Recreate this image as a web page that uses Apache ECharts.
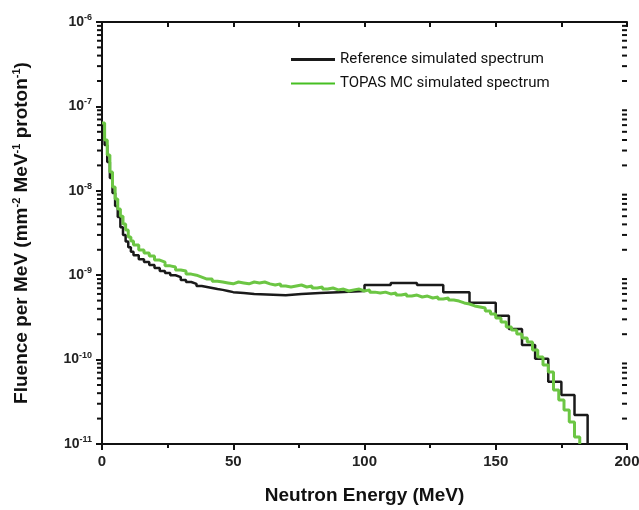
<!DOCTYPE html>
<html>
<head>
<meta charset="utf-8">
<script src="https://cdn.jsdelivr.net/npm/echarts@6/dist/echarts.min.js"></script>
<style>
  html, body { margin: 0; padding: 0; background: #fff; }
  #chart { width: 639px; height: 510px; }
</style>
</head>
<body>
<div id="chart"></div>
<script>
var xTicks = [0, 50, 100, 150, 200];
var yDecades = [1e-11, 1e-10, 1e-9, 1e-8, 1e-7, 1e-6];

// reference spectrum (bin edges in MeV, fluence per bin)
var refEdges = [0, 1, 2, 3, 4, 5, 6, 7, 8, 9, 10, 11, 12, 14, 16, 18, 20, 22, 24, 26, 28, 30,
  32, 34, 36, 38, 40, 42, 44, 46, 48, 50, 54, 58, 70, 76, 83, 90, 100, 110, 120, 130, 140,
  150, 155, 160, 165, 170, 175, 180, 185];
var refValues = [6.2e-8, 3.5e-8, 2.2e-8, 1.42e-8, 9.4e-9, 6.6e-9, 4.9e-9, 3.7e-9, 3.0e-9, 2.5e-9,
  2.15e-9, 1.9e-9, 1.72e-9, 1.55e-9, 1.43e-9, 1.32e-9, 1.22e-9, 1.12e-9, 1.06e-9, 1.0e-9,
  9.5e-10, 8.8e-10, 8.3e-10, 7.9e-10, 7.45e-10, 7.25e-10, 7.05e-10, 6.85e-10, 6.7e-10, 6.5e-10,
  6.3e-10, 6.15e-10, 6.0e-10, 5.8e-10, 6.0e-10, 6.15e-10, 6.3e-10, 6.5e-10, 7.65e-10, 8.1e-10,
  7.65e-10, 6.3e-10, 4.7e-10, 3.31e-10, 2.31e-10, 1.49e-10, 1.02e-10, 5.47e-11, 3.81e-11, 2.21e-11];

// TOPAS spectrum: 1 MeV bins up to 12 MeV, then 2 MeV bins up to 182 MeV
var topasEdges = [0, 1, 2, 3, 4, 5, 6, 7, 8, 9, 10, 11, 12, 14, 16, 18, 20, 22, 24, 26, 28, 30,
  32, 34, 36, 38, 40, 42, 44, 46, 48, 50, 52, 54, 56, 58, 60, 62, 64, 66, 68, 70, 72, 74, 76,
  78, 80, 82, 84, 86, 88, 90, 92, 94, 96, 98, 100, 102, 104, 106, 108, 110, 112, 114, 116, 118,
  120, 122, 124, 126, 128, 130, 132, 134, 136, 138, 140, 142, 144, 146, 148, 150, 152, 154, 156,
  158, 160, 162, 164, 166, 168, 170, 172, 174, 176, 178, 180, 182];
var topasValues = [6.35e-8, 4.0e-8, 2.65e-8, 1.67e-8, 1.11e-8, 8.0e-9, 6.1e-9, 5.0e-9, 4.04e-9,
  3.43e-9, 2.84e-9, 2.54e-9, 2.28e-9, 1.99e-9, 1.83e-9, 1.69e-9, 1.51e-9, 1.43e-9, 1.29e-9,
  1.25e-9, 1.15e-9, 1.12e-9, 1.03e-9, 1.0e-9, 9.5e-10, 9.0e-10, 9.0e-10, 8.5e-10, 8.3e-10,
  8.1e-10, 7.9e-10, 8.3e-10, 8.1e-10, 7.9e-10, 8.3e-10, 8.1e-10, 8.3e-10, 7.9e-10, 7.65e-10,
  7.9e-10, 7.45e-10, 7.25e-10, 7.45e-10, 7.65e-10, 7.25e-10, 7.45e-10, 7.05e-10, 7.25e-10,
  6.85e-10, 7.05e-10, 6.7e-10, 6.85e-10, 6.5e-10, 6.7e-10, 6.85e-10, 6.5e-10, 6.7e-10, 6.3e-10,
  6.15e-10, 6.3e-10, 6.0e-10, 6.15e-10, 5.82e-10, 6.0e-10, 5.66e-10, 5.82e-10, 5.52e-10,
  5.66e-10, 5.37e-10, 5.52e-10, 5.22e-10, 5.37e-10, 5.08e-10, 4.94e-10, 4.69e-10, 4.56e-10,
  4.32e-10, 4.2e-10, 4.08e-10, 3.77e-10, 3.47e-10, 3.11e-10, 2.79e-10, 2.43e-10, 2.24e-10,
  2.01e-10, 1.8e-10, 1.62e-10, 1.3e-10, 1.07e-10, 8.63e-11, 7.13e-11, 4.36e-11, 3.32e-11,
  2.53e-11, 1.82e-11, 1.21e-11];

var yMin = 1e-11, yMax = 1e-6;

// log minor tick positions 2..9 x 10^n
var minorTicks = [];
for (var e = -11; e < -6; e++) {
  for (var k = 2; k <= 9; k++) minorTicks.push(k * Math.pow(10, e));
}

function toSteps(edges, values) {
  var pts = [];
  for (var i = 0; i < values.length; i++) pts.push([edges[i], values[i]]);
  pts.push([edges[values.length], values[values.length - 1]]);
  pts.push([edges[values.length], yMin]);
  return pts;
}

var font = '"Liberation Sans", Arial, sans-serif';
var ink = '#111';

var myChart = echarts.init(document.getElementById('chart'));

myChart.setOption({
  animation: false,
  grid: { left: 102, right: 12, top: 22, bottom: 66, outerBoundsMode: 'none' },
  legend: {
    left: 286, top: 47,
    orient: 'vertical',
    itemWidth: 44, itemHeight: 14, itemGap: 9,
    textStyle: { fontFamily: 'Roboto', fontSize: 15, color: '#111' },
    data: [
      { name: 'Reference simulated spectrum', icon: 'path://M0,0L44,0L44,3L0,3Z', itemStyle: { color: '#1a1a1a' } },
      { name: 'TOPAS MC simulated spectrum', icon: 'path://M0,0L44,0L44,2L0,2Z', itemStyle: { color: '#46bf22' } }
    ]
  },
  xAxis: [{
    type: 'value', min: 0, max: 200, interval: 50,
    axisLine: { lineStyle: { color: ink, width: 2 } },
    axisTick: { length: 6, lineStyle: { color: ink, width: 2 } },
    minorTick: { show: true, splitNumber: 2, length: 4, lineStyle: { color: ink, width: 2 } },
    splitLine: { show: false },
    axisLabel: {
      fontFamily: font, fontWeight: 'bold', fontSize: 15, color: '#222', margin: 10,
      formatter: function (v) { return xTicks.indexOf(v) >= 0 ? String(v) : ''; }
    },
    name: 'Neutron Energy (MeV)', nameLocation: 'middle', nameGap: 42,
    nameTextStyle: { fontFamily: font, fontWeight: 'bold', fontSize: 19, color: '#111' }
  }, {
    type: 'value', min: 0, max: 200, interval: 25, position: 'top',
    axisLine: { lineStyle: { color: ink, width: 2 } },
    axisTick: { inside: true, length: 5, lineStyle: { color: ink, width: 2 } },
    axisLabel: { show: false },
    splitLine: { show: false }
  }],
  yAxis: [{
    type: 'log', logBase: 10, min: yMin, max: yMax,
    axisLine: { show: true, lineStyle: { color: ink, width: 2 } },
    axisTick: { show: true, length: 6, lineStyle: { color: ink, width: 2 } },
    splitLine: { show: false },
    axisLabel: {
      margin: 10,
      formatter: function (v) {
        var p = Math.round(Math.log10(v));
        return '{b|10}{s|' + p + '}';
      },
      rich: {
        b: { fontFamily: font, fontWeight: 'bold', fontSize: 14, color: '#222' },
        s: { fontFamily: font, fontWeight: 'bold', fontSize: 9, color: '#222', padding: [0, 0, 9, 0] }
      }
    },
    name: '{n|Fluence per MeV (mm}{s|-2}{n| MeV}{s|-1}{n| proton}{s|-1}{n|)}',
    nameLocation: 'middle', nameGap: 70,
    nameTextStyle: {
      rich: {
        n: { fontFamily: font, fontWeight: 'bold', fontSize: 19, color: '#111' },
        s: { fontFamily: font, fontWeight: 'bold', fontSize: 11, color: '#111', padding: [0, 0, 10, 0] }
      }
    }
  }, {
    type: 'log', logBase: 10, min: yMin, max: yMax, position: 'right',
    axisLine: { show: true, lineStyle: { color: ink, width: 2 } },
    axisTick: { show: true, inside: true, length: 6, lineStyle: { color: ink, width: 2 } },
    axisLabel: { show: false },
    splitLine: { show: false }
  }],
  series: [{
    name: 'Reference simulated spectrum',
    type: 'line', step: 'end', symbol: 'none',
    xAxisIndex: 0, yAxisIndex: 0,
    lineStyle: { color: '#1a1a1a', width: 2.5 },
    itemStyle: { color: '#1a1a1a' },
    data: toSteps(refEdges, refValues),
    z: 3
  }, {
    name: 'TOPAS MC simulated spectrum',
    type: 'line', step: 'end', symbol: 'none',
    xAxisIndex: 0, yAxisIndex: 0,
    lineStyle: { color: '#6cc644', width: 3 },
    itemStyle: { color: '#46bf22' },
    data: toSteps(topasEdges, topasValues),
    z: 4
  }, {
    // log-axis minor ticks, left (outward) and right (inward)
    type: 'custom', silent: true, clip: false,
    xAxisIndex: 0, yAxisIndex: 0,
    data: minorTicks.map(function (v) { return [0, v]; }),
    renderItem: function (params, api) {
      var v = api.value(1);
      var l = api.coord([0, v]);
      var r = api.coord([200, v]);
      return {
        type: 'group',
        children: [
          { type: 'line', shape: { x1: l[0] - 5, y1: l[1], x2: l[0], y2: l[1] }, style: { stroke: ink, lineWidth: 2 } },
          { type: 'line', shape: { x1: r[0] - 5, y1: r[1], x2: r[0], y2: r[1] }, style: { stroke: ink, lineWidth: 2 } }
        ]
      };
    },
    z: 5
  }]
});
</script>
</body>
</html>
